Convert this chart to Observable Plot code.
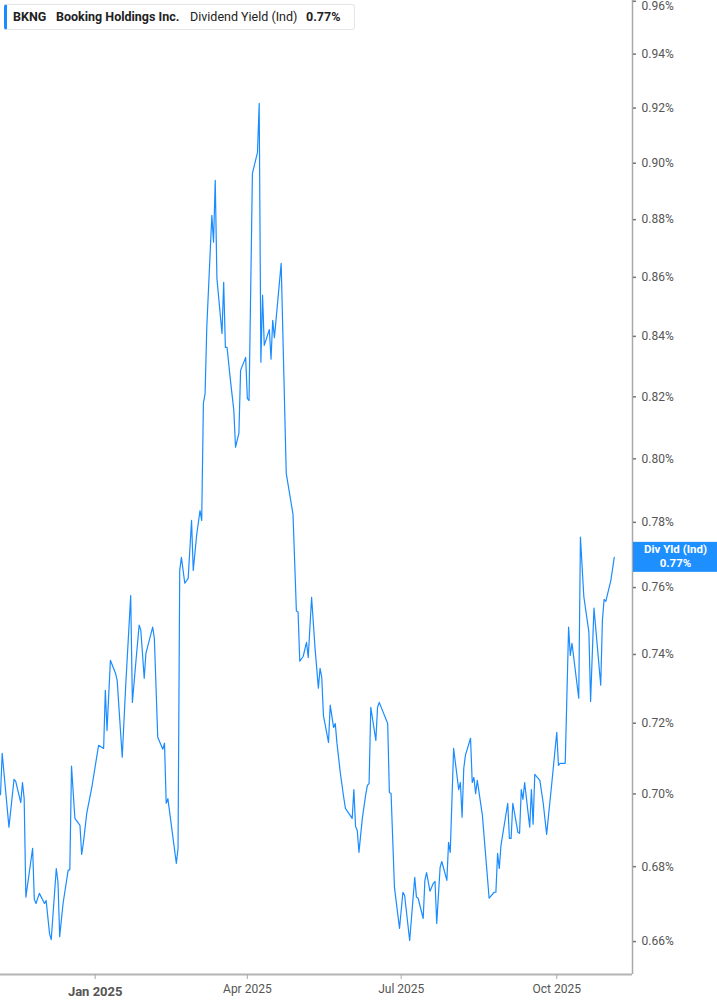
<!DOCTYPE html>
<html>
<head>
<meta charset="utf-8">
<script src="https://cdn.jsdelivr.net/npm/d3@7"></script>
<script src="https://cdn.jsdelivr.net/npm/@observablehq/plot@0.6"></script>
<style>
  html, body { margin: 0; padding: 0; background: #fff; }
  #wrap { position: relative; width: 717px; height: 1005px; font-family: Roboto, "Noto Sans", sans-serif; }
  #legend { position: absolute; left: 4px; top: 4px; width: 351px; height: 26px; box-sizing: border-box;
    background: #fff; border: 1px solid #e6e6e6; border-left: 3px solid #1a8cff; border-radius: 3px;
    font-size: 12.5px; color: #222; line-height: 24px; white-space: nowrap; }
  #legend span { position: absolute; top: 0; }
</style>
</head>
<body>
<div id="wrap">
  <div id="chart"></div>
  <div id="legend">
    <span style="left:6px;font-weight:700">BKNG</span>
    <span style="left:49px;font-weight:700">Booking Holdings Inc.</span>
    <span style="left:183px;font-weight:400">Dividend Yield (Ind)</span>
    <span style="left:299px;font-weight:700">0.77%</span>
  </div>
</div>
<script>
const dates = [
"2024-11-06","2024-11-07","2024-11-11","2024-11-14","2024-11-15","2024-11-18","2024-11-19","2024-11-20","2024-11-21","2024-11-25",
"2024-11-26","2024-11-27","2024-11-29","2024-12-02","2024-12-03","2024-12-05","2024-12-06","2024-12-09","2024-12-10","2024-12-11",
"2024-12-13","2024-12-16","2024-12-17","2024-12-18","2024-12-20","2024-12-23","2024-12-24","2024-12-25","2024-12-27","2024-12-30",
"2025-01-03","2025-01-06","2025-01-07","2025-01-08","2025-01-10","2025-01-13","2025-01-14","2025-01-17","2025-01-19","2025-01-22",
"2025-01-23","2025-01-25","2025-01-27","2025-01-28","2025-01-30","2025-01-31","2025-02-04","2025-02-05","2025-02-07","2025-02-10",
"2025-02-11","2025-02-12","2025-02-13","2025-02-18","2025-02-19","2025-02-20","2025-02-21","2025-02-23","2025-02-25","2025-02-27",
"2025-02-28","2025-03-02","2025-03-04","2025-03-05","2025-03-06","2025-03-07","2025-03-08","2025-03-11","2025-03-12","2025-03-13",
"2025-03-14","2025-03-17","2025-03-18","2025-03-19","2025-03-20","2025-03-22","2025-03-24","2025-03-25","2025-03-27","2025-03-28",
"2025-03-31","2025-04-01","2025-04-02","2025-04-04","2025-04-07","2025-04-08","2025-04-09","2025-04-10","2025-04-11","2025-04-14",
"2025-04-15","2025-04-16","2025-04-17","2025-04-21","2025-04-24","2025-04-28","2025-04-30","2025-05-01","2025-05-02","2025-05-04",
"2025-05-06","2025-05-07","2025-05-09","2025-05-11","2025-05-13","2025-05-14","2025-05-15","2025-05-16","2025-05-19","2025-05-20",
"2025-05-22","2025-05-23","2025-05-24","2025-05-26","2025-05-28","2025-05-29","2025-06-02","2025-06-03","2025-06-04","2025-06-05",
"2025-06-06","2025-06-08","2025-06-10","2025-06-11","2025-06-12","2025-06-13","2025-06-16","2025-06-17","2025-06-18","2025-06-23",
"2025-06-24","2025-06-25","2025-06-27","2025-06-30","2025-07-02","2025-07-03","2025-07-06","2025-07-09","2025-07-10","2025-07-11",
"2025-07-14","2025-07-15","2025-07-16","2025-07-18","2025-07-20","2025-07-21","2025-07-22","2025-07-24","2025-07-25","2025-07-28",
"2025-07-29","2025-07-30","2025-08-01","2025-08-04","2025-08-05","2025-08-06","2025-08-07","2025-08-08","2025-08-11","2025-08-12",
"2025-08-13","2025-08-14","2025-08-15","2025-08-18","2025-08-22","2025-08-25","2025-08-26","2025-08-27","2025-08-28","2025-08-29",
"2025-09-02","2025-09-03","2025-09-04","2025-09-05","2025-09-08","2025-09-09","2025-09-10","2025-09-11","2025-09-12","2025-09-15",
"2025-09-16","2025-09-17","2025-09-18","2025-09-21","2025-09-23","2025-09-25","2025-09-28","2025-10-01","2025-10-02","2025-10-03",
"2025-10-06","2025-10-08","2025-10-09","2025-10-10","2025-10-14","2025-10-15","2025-10-17","2025-10-20","2025-10-21","2025-10-23",
"2025-10-27","2025-10-28","2025-10-29","2025-10-30","2025-11-02","2025-11-04"
];
const yields = [
0.6998,0.7114,0.6908,0.7041,0.7035,0.6976,0.7032,0.6987,0.6718,0.6850,
0.6712,0.6701,0.6728,0.6701,0.6709,0.6621,0.6605,0.6795,0.6758,0.6613,
0.6701,0.6790,0.6792,0.7078,0.6932,0.6913,0.6833,0.6864,0.6946,0.7018,
0.7137,0.7128,0.7295,0.7179,0.7383,0.7345,0.7324,0.7103,0.7304,0.7576,
0.7260,0.7374,0.7487,0.7472,0.7330,0.7403,0.7481,0.7448,0.7160,0.7126,
0.7143,0.6974,0.6987,0.6809,0.6850,0.7652,0.7692,0.7613,0.7628,0.7806,
0.7652,0.7760,0.7837,0.7806,0.8179,0.8211,0.8430,0.8815,0.8721,0.8939,
0.8596,0.8410,0.8583,0.8363,0.8363,0.8254,0.8156,0.8037,0.8082,0.8287,
0.8330,0.8195,0.8188,0.8964,0.9039,0.9217,0.8314,0.8539,0.8370,0.8423,
0.8324,0.8454,0.8396,0.8648,0.7954,0.7825,0.7529,0.7526,0.7380,0.7394,
0.7436,0.7391,0.7570,0.7421,0.7301,0.7359,0.7333,0.7222,0.7145,0.7252,
0.7188,0.7199,0.7143,0.7058,0.6990,0.6960,0.6932,0.7012,0.6910,0.6899,
0.6839,0.6932,0.6998,0.7024,0.7029,0.7246,0.7151,0.7246,0.7260,0.7199,
0.7004,0.7001,0.6744,0.6635,0.6731,0.6723,0.6603,0.6771,0.6718,0.6715,
0.6661,0.6763,0.6784,0.6734,0.6755,0.6760,0.6648,0.6798,0.6814,0.6763,
0.6866,0.6839,0.7128,0.7012,0.7032,0.6935,0.7072,0.7109,0.7157,0.7032,
0.7046,0.7001,0.7038,0.6941,0.6715,0.6731,0.6731,0.6836,0.6795,0.6858,
0.6974,0.6877,0.6877,0.6974,0.6894,0.6891,0.7012,0.6985,0.7032,0.6908,
0.7012,0.6916,0.7055,0.7038,0.6974,0.6888,0.7027,0.7174,0.7080,0.7086,
0.7086,0.7481,0.7397,0.7433,0.7272,0.7754,0.7573,0.7466,0.7263,0.7538,
0.7310,0.7502,0.7564,0.7558,0.7622,0.7692
];
const yTicks = [0.66,0.68,0.70,0.72,0.74,0.76,0.78,0.80,0.82,0.84,0.86,0.88,0.90,0.92,0.94,0.96];
const xTickDates = ["2025-01-01","2025-04-01","2025-07-01","2025-10-01"];
const xTickLabels = ["Jan 2025","Apr 2025","Jul 2025","Oct 2025"];
const xDomain = ["2024-11-06","2025-11-14T19:00"];
const yDomain = [0.6514, 0.9603];
const seriesLabel = "Div Yld (Ind)";
const lastLabel = "0.77%";

const data = dates.map((d, i) => ({date: new Date(d), value: yields[i]}));
const xd = xDomain.map(d => new Date(d + (d.length === 10 ? "T00:00Z" : "Z")));
const xt = xTickDates.map(d => new Date(d));
const labelOf = new Map(xt.map((d, i) => [+d, xTickLabels[i]]));
const innerTicks = yTicks.slice(0, -1);
const topTick = yTicks.slice(-1);
const fmtPct = d => d.toFixed(2) + "%";

const chart = Plot.plot({
  width: 717,
  height: 1005,
  marginLeft: 0,
  marginRight: 85,
  marginTop: 0,
  marginBottom: 31,
  style: {fontFamily: "Roboto, 'Noto Sans', sans-serif", background: "#fff", overflow: "visible"},
  x: {type: "utc", domain: xd},
  y: {type: "log", domain: yDomain},
  marks: [
    Plot.ruleY([yDomain[0]], {stroke: "#b4b4b4", strokeWidth: 2}),
    Plot.ruleX([xd[1]], {stroke: "#a8a8a8", strokeWidth: 1.5}),
    Plot.axisY({anchor: "right", ticks: yTicks, tickSize: 3, strokeWidth: 1.5, stroke: "#777", text: null, label: null}),
    Plot.text(innerTicks, {x: () => xd[1], y: d => d, dx: 9, textAnchor: "start", fill: "#555", fontSize: 12,
      lineAnchor: "middle", text: fmtPct}),
    Plot.text(topTick, {x: () => xd[1], y: d => d, dx: 9, dy: 5, textAnchor: "start", fill: "#555", fontSize: 12,
      lineAnchor: "middle", text: fmtPct}),
    Plot.axisX({ticks: xt.slice(0, 1), tickSize: 5, tickPadding: 7, stroke: "#aaa", fill: "#555",
      fontSize: 13, fontWeight: "bold", label: null, tickFormat: d => labelOf.get(+d)}),
    Plot.axisX({ticks: xt.slice(1), tickSize: 5, tickPadding: 5, stroke: "#aaa", fill: "#555",
      fontSize: 12, label: null, tickFormat: d => labelOf.get(+d)}),
    Plot.lineY(data, {x: "date", y: "value", stroke: "#1a8cff", strokeWidth: 1.2})
  ]
});
document.getElementById("chart").appendChild(chart);

// end-of-series label placed via the chart's own scales
const yPos = chart.scale("y").apply(yields[yields.length - 1]);
const xRight = chart.scale("x").apply(xd[1]);
const svg = d3.select(chart);
const g = svg.append("g");
g.append("rect").attr("x", xRight + 1).attr("y", yPos - 15).attr("width", 717 - xRight - 1).attr("height", 30)
  .attr("fill", "#1e8fff");
g.append("text").attr("x", (xRight + 717) / 2 + 1).attr("y", yPos - 4).attr("text-anchor", "middle")
  .attr("fill", "#fff").attr("font-size", 11.5).attr("font-weight", "bold").text(seriesLabel);
g.append("text").attr("x", (xRight + 717) / 2 + 1).attr("y", yPos + 10).attr("text-anchor", "middle")
  .attr("fill", "#fff").attr("font-size", 11.5).attr("font-weight", "bold").text(lastLabel);
</script>
</body>
</html>
